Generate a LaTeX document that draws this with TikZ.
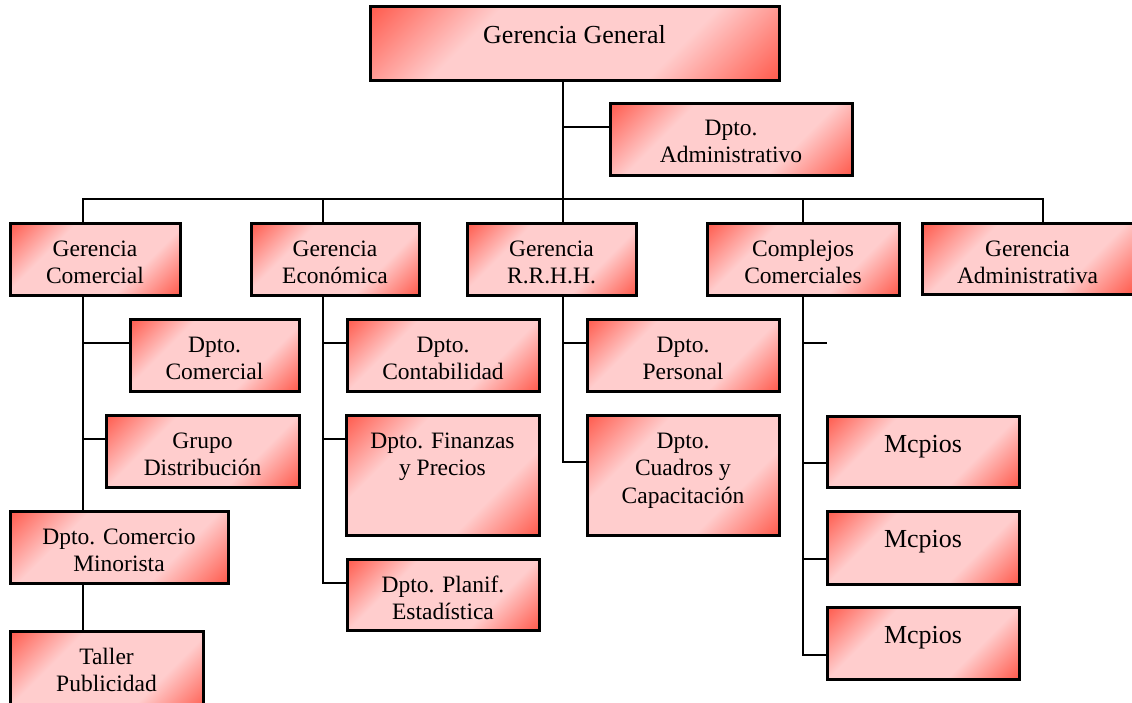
\documentclass[tikz,border=0pt]{standalone}
\usepackage{fontspec}
\setmainfont{Liberation Serif}
\definecolor{boxred}{RGB}{255,40,20}
\definecolor{boxpink}{RGB}{255,205,205}
\pgfdeclarehorizontalshading{redpink}{100bp}{color(0bp)=(boxred); color(6bp)=(boxred); color(34bp)=(boxpink); color(66bp)=(boxpink); color(94bp)=(boxred); color(100bp)=(boxred)}
\newcommand\lns[1]{\begin{tabular}[t]{@{}c@{}}#1\end{tabular}}
% style name x1 y1 x2 y2 baselineoffset text
\newcommand\bx[8]{%
  \pgfmathsetmacro\bxw{#5-#3}%
  \pgfmathsetmacro\bxcx{(#3+#5)/2}%
  \pgfmathsetmacro\bxd{#6-#4-#7}%
  \pgfmathsetmacro\bxby{#4+#7}%
  \node[orgbox,#1,minimum width=\bxw pt,text height=#7pt,text depth=\bxd pt,anchor=base] (#2) at (\bxcx,\bxby) {\lns{#8}};}
\begin{document}
\begin{tikzpicture}[x=1pt,y=-1pt,
  orgbox/.style={draw=black,line width=3pt,shade,shading=redpink,shading angle=-45,inner sep=0pt,font=\fontsize{23.5}{27.7}\selectfont},
  big/.style={font=\fontsize{26}{30}\selectfont},
  conn/.style={draw=black,line width=2.8pt,line join=miter}]
\fill[white] (0,0) rectangle (1132,702);
\useasboundingbox (0,0) rectangle (1132,702);
\clip (0,0) rectangle (1132,702);
% junction coordinates
\coordinate (t) at (563,199);
\coordinate (ja) at (563,127);
\coordinate (b1) at (83,199);
\coordinate (b2) at (323,199);
\coordinate (b4) at (803,199);
\coordinate (b5) at (1043,199);
\coordinate (c1) at (83,343);
\coordinate (c2) at (83,439);
\coordinate (e1) at (323,343);
\coordinate (e2) at (323,439);
\coordinate (e3) at (323,583);
\coordinate (r1) at (563,343);
\coordinate (r2) at (563,462);
\coordinate (k0) at (803,343);
\coordinate (ks) at (827,343);
\coordinate (k1) at (803,463);
\coordinate (k2) at (803,559);
\coordinate (k3) at (803,655);
% boxes
\bx{big}{gg}{370}{6}{779}{80}{37}{Gerencia General}
\bx{}{da}{610}{103}{852}{175}{32}{Dpto.\\Administrativo}
\bx{}{gc}{10}{223}{180}{295}{33}{Gerencia\\Comercial}
\bx{}{ge}{251}{223}{419}{295}{33}{Gerencia\\Económica}
\bx{}{gr}{467}{223}{636}{295}{33}{Gerencia\\R.R.H.H.}
\bx{}{cc}{707}{223}{899}{295}{33}{Complejos\\Comerciales}
\bx{}{ga}{922}{223}{1133}{294}{33}{Gerencia\\Administrativa}
\bx{}{dc}{130}{319}{299}{391}{33}{Dpto.\\Comercial}
\bx{}{gd}{106}{415}{299}{487}{33}{Grupo\\Distribución}
\bx{}{dcm}{10}{511}{228}{583}{33}{Dpto. Comercio\\Minorista}
\bx{}{tp}{10}{631}{203}{712}{33}{Taller\\Publicidad}
\bx{}{dcon}{347}{319}{539}{391}{33}{Dpto.\\Contabilidad}
\bx{}{dfp}{346}{415}{539}{535}{33}{Dpto. Finanzas\\y Precios}
\bx{}{dpe}{347}{559}{539}{630}{33}{Dpto. Planif.\\Estadística}
\bx{}{dp}{587}{319}{779}{391}{33}{Dpto.\\Personal}
\bx{}{dcc}{587}{415}{779}{535}{33}{Dpto.\\Cuadros y\\Capacitación}
\bx{big}{m1}{827}{416}{1019}{487}{36}{Mcpios}
\bx{big}{m2}{827}{511}{1019}{584}{36}{Mcpios}
\bx{big}{m3}{827}{607}{1019}{679}{36}{Mcpios}
% connectors
\path[conn] (t |- gg.south) -- (t);
\path[conn] (ja) -- (ja -| da.west);
\path[conn] (b1 |- gc.north) -- (b1) -- (b5) -- (b5 |- ga.north);
\path[conn] (b2) -- (b2 |- ge.north);
\path[conn] (t) -- (t |- gr.north);
\path[conn] (b4) -- (b4 |- cc.north);
\path[conn] (b1 |- gc.south) -- (b1 |- dcm.north);
\path[conn] (b1 |- dcm.south) -- (b1 |- tp.north);
\path[conn] (c1) -- (c1 -| dc.west);
\path[conn] (c2) -- (c2 -| gd.west);
\path[conn] (b2 |- ge.south) -- (e3) -- (e3 -| dpe.west);
\path[conn] (e1) -- (e1 -| dcon.west);
\path[conn] (e2) -- (e2 -| dfp.west);
\path[conn] (t |- gr.south) -- (r2) -- (r2 -| dcc.west);
\path[conn] (r1) -- (r1 -| dp.west);
\path[conn] (b4 |- cc.south) -- (k3) -- (k3 -| m3.west);
\path[conn] (k0) -- (ks);
\path[conn] (k1) -- (k1 -| m1.west);
\path[conn] (k2) -- (k2 -| m2.west);
\end{tikzpicture}
\end{document}
